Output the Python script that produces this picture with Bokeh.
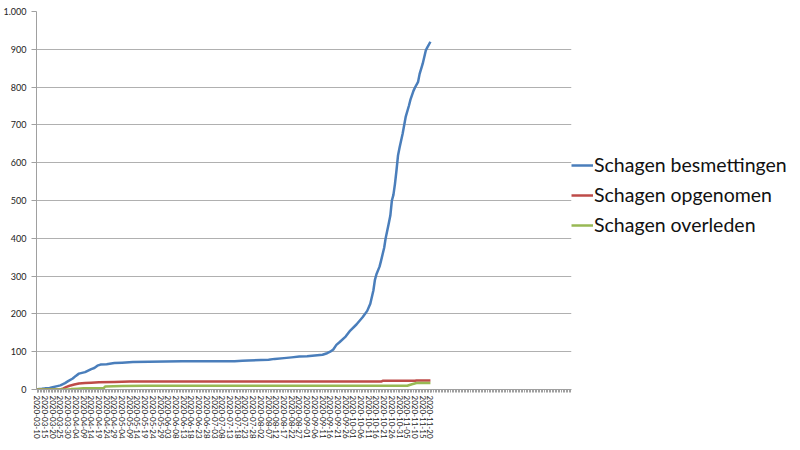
import pandas as pd
from bokeh.plotting import figure
from bokeh.models import Range1d, FixedTicker, DatetimeTickFormatter, Legend, LegendItem
from bokeh.embed import file_html
from bokeh.resources import INLINE

series_names = ["Schagen besmettingen", "Schagen opgenomen", "Schagen overleden"]

besm_dates = ["2020-03-10", "2020-03-13", "2020-03-15", "2020-03-18", "2020-03-20", "2020-03-23",
              "2020-03-25", "2020-03-28", "2020-03-30", "2020-04-02", "2020-04-04", "2020-04-06",
              "2020-04-08", "2020-04-10", "2020-04-12", "2020-04-14", "2020-04-16", "2020-04-18",
              "2020-04-20", "2020-04-24", "2020-04-29", "2020-05-04", "2020-05-11", "2020-06-01",
              "2020-06-12", "2020-07-16", "2020-07-21", "2020-07-25", "2020-08-02", "2020-08-07",
              "2020-08-11", "2020-08-17", "2020-08-22", "2020-08-27", "2020-09-01", "2020-09-06",
              "2020-09-11", "2020-09-14", "2020-09-16", "2020-09-18", "2020-09-20", "2020-09-22",
              "2020-09-26", "2020-09-29", "2020-10-03", "2020-10-07", "2020-10-10", "2020-10-12",
              "2020-10-14", "2020-10-15", "2020-10-16", "2020-10-18", "2020-10-19", "2020-10-21",
              "2020-10-22", "2020-10-24", "2020-10-25", "2020-10-26", "2020-10-27", "2020-10-28",
              "2020-10-29", "2020-10-30", "2020-10-31", "2020-11-02", "2020-11-04", "2020-11-06",
              "2020-11-07", "2020-11-09", "2020-11-10", "2020-11-12", "2020-11-13", "2020-11-15",
              "2020-11-17", "2020-11-18", "2020-11-20"]
besm_values = [1, 2, 3, 4, 6, 9,
               11, 17, 22, 29, 36, 42,
               44, 46, 50, 54, 57, 63,
               66, 67, 70, 71, 73, 74,
               75, 75, 76, 77, 78, 79,
               81, 83, 85, 87, 88, 90,
               92, 96, 100, 106, 118, 125,
               140, 156, 172, 191, 208, 227,
               262, 290, 305, 325, 341, 375,
               401, 440, 460, 500, 515, 544,
               580, 620, 640, 677, 722, 750,
               766, 790, 799, 814, 835, 862,
               897, 905, 920]

opg_dates = ["2020-03-10", "2020-03-25", "2020-03-27", "2020-03-29", "2020-03-31", "2020-04-03",
             "2020-04-06", "2020-04-10", "2020-04-14", "2020-04-19", "2020-04-29", "2020-05-09",
             "2020-10-19", "2020-10-20", "2020-11-10", "2020-11-11", "2020-11-20"]
opg_values = [0, 0, 3, 7, 10, 13,
              16, 17, 18, 19, 20, 21,
              21, 23, 23, 24, 24]

ovl_dates = ["2020-03-10", "2020-03-30", "2020-04-01", "2020-04-05", "2020-04-09", "2020-04-22",
             "2020-04-23", "2020-05-04", "2020-05-19", "2020-11-05", "2020-11-08", "2020-11-11",
             "2020-11-20"]
ovl_values = [0, 0, 1, 2, 3, 3,
              8, 9, 10, 10, 14, 17,
              17]

x_tick_labels = ["2020-03-10", "2020-03-15", "2020-03-20", "2020-03-25", "2020-03-30", "2020-04-04",
                 "2020-04-09", "2020-04-14", "2020-04-19", "2020-04-24", "2020-04-29", "2020-05-04",
                 "2020-05-09", "2020-05-14", "2020-05-19", "2020-05-24", "2020-05-29", "2020-06-03",
                 "2020-06-08", "2020-06-13", "2020-06-18", "2020-06-23", "2020-06-28", "2020-07-03",
                 "2020-07-08", "2020-07-13", "2020-07-18", "2020-07-23", "2020-07-28", "2020-08-02",
                 "2020-08-07", "2020-08-12", "2020-08-17", "2020-08-22", "2020-08-27", "2020-09-01",
                 "2020-09-06", "2020-09-11", "2020-09-16", "2020-09-21", "2020-09-26", "2020-10-01",
                 "2020-10-06", "2020-10-11", "2020-10-16", "2020-10-21", "2020-10-26", "2020-10-31",
                 "2020-11-05", "2020-11-10", "2020-11-15", "2020-11-20"]
y_ticks = [0, 100, 200, 300, 400, 500, 600, 700, 800, 900, 1000]
y_tick_labels = ["0", "100", "200", "300", "400", "500", "600", "700", "800", "900", "1.000"]

colors = ["#4a7ebb", "#be4b48", "#98b954"]

x_start = pd.Timestamp("2020-03-09 12:00")
x_end = x_start + pd.Timedelta(days=347)

p = figure(frame_width=535, frame_height=378, x_axis_type="datetime", output_backend="svg",
           toolbar_location=None, x_range=Range1d(x_start, x_end), y_range=Range1d(0, 1000),
           min_border_left=27, min_border_top=11, min_border_right=0, min_border_bottom=0)
p.outline_line_color = None
p.background_fill_color = "white"

def ms(s):
    return pd.Timestamp(s).value / 1e6

major = [ms(s) for s in x_tick_labels]
minor = [ms(x_start + pd.Timedelta(hours=12) + pd.Timedelta(days=i)) for i in range(0, 348)]
p.xaxis.ticker = FixedTicker(ticks=major, minor_ticks=minor)
fmt = "%Y-%m-%d"
p.xaxis.formatter = DatetimeTickFormatter(days=fmt, months=fmt, years=fmt, hours=fmt,
                                          microseconds=fmt, milliseconds=fmt, seconds=fmt,
                                          minsec=fmt, minutes=fmt, hourmin=fmt)
p.xaxis.major_label_orientation = "vertical"
p.xaxis.major_label_text_font = "Lato"
p.xaxis.major_label_text_font_size = "8px"
p.xaxis.major_label_text_color = "#222222"
p.xaxis.major_label_standoff = 3
p.xaxis.axis_line_color = "#a0a0a0"
p.xaxis.major_tick_line_color = "#a0a0a0"
p.xaxis.minor_tick_line_color = "#a0a0a0"
p.xaxis.major_tick_out = 3
p.xaxis.major_tick_in = 0
p.xaxis.minor_tick_out = 3
p.xaxis.minor_tick_in = 0

p.yaxis.ticker = FixedTicker(ticks=y_ticks, minor_ticks=[])
p.yaxis.major_label_overrides = {t: l for t, l in zip(y_ticks, y_tick_labels)}
p.yaxis.major_label_text_font = "Lato"
p.yaxis.major_label_text_font_size = "9px"
p.yaxis.major_label_text_color = "#222222"
p.yaxis.major_label_standoff = 5
p.yaxis.axis_line_color = "#a0a0a0"
p.yaxis.major_tick_line_color = "#a0a0a0"
p.yaxis.major_tick_out = 5
p.yaxis.major_tick_in = 0
p.yaxis.minor_tick_line_color = None

p.xgrid.grid_line_color = None
p.ygrid.grid_line_color = "#b0b0b0"
p.ygrid.grid_line_width = 1

renderers = []
for dates, vals, c in [(besm_dates, besm_values, colors[0]),
                       (opg_dates, opg_values, colors[1]),
                       (ovl_dates, ovl_values, colors[2])]:
    r = p.line(pd.to_datetime(dates), vals, line_color=c, line_width=2.5, line_join="round")
    renderers.append(r)

legend = Legend(items=[LegendItem(label=n, renderers=[r]) for n, r in zip(series_names, renderers)],
                location=(0, 153), border_line_color=None, background_fill_alpha=0,
                label_text_font="Lato", label_text_font_size="19.5px", label_text_color="#111111",
                glyph_width=22, glyph_height=20, label_height=20, label_standoff=1,
                spacing=7, padding=0, margin=8)
p.add_layout(legend, "right")

open("out.html", "w").write(file_html(p, INLINE))
